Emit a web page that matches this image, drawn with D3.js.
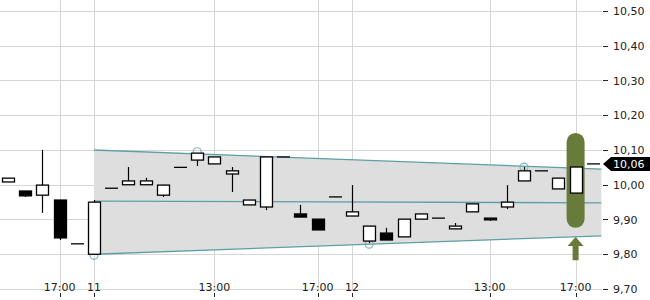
<!DOCTYPE html>
<html>
<head>
<meta charset="utf-8">
<script src="https://cdn.jsdelivr.net/npm/d3@7"></script>
<style>
  body { margin: 0; background: #fff; }
  svg text { font-family: "DejaVu Sans", sans-serif; font-size: 11px; }
</style>
</head>
<body>
<div id="chart_area"></div>
<script>
// candles, one per period (index = position on the x axis)
var opens  = [10.008, 9.982, 9.970, 9.956, 9.830, 9.800, 9.990, 10.000, 10.000, 9.970, 10.050, 10.071, 10.060, 10.031, 9.942, 9.936, 10.080, 9.916, 9.901, 9.965, 9.910, 9.838, 9.861, 9.850, 9.901, 9.904, 9.873, 9.922, 9.904, 9.936, 10.011, 10.040, 9.988, 9.976, 10.060];
var highs  = [10.019, 9.982, 10.100, 9.956, 9.830, 9.956, 9.990, 10.051, 10.020, 10.000, 10.050, 10.091, 10.080, 10.051, 9.956, 10.080, 10.080, 9.942, 9.901, 9.965, 9.999, 9.881, 9.876, 9.901, 9.916, 9.904, 9.890, 9.945, 9.904, 9.999, 10.051, 10.040, 10.019, 10.051, 10.060];
var lows   = [10.008, 9.965, 9.919, 9.841, 9.830, 9.800, 9.990, 10.000, 10.000, 9.965, 10.050, 10.054, 10.060, 9.979, 9.942, 9.927, 10.080, 9.907, 9.870, 9.965, 9.910, 9.832, 9.841, 9.850, 9.901, 9.904, 9.873, 9.922, 9.896, 9.930, 10.011, 10.040, 9.988, 9.976, 10.060];
var closes = [10.019, 9.968, 9.999, 9.847, 9.830, 9.950, 9.990, 10.011, 10.011, 9.999, 10.050, 10.091, 10.080, 10.040, 9.956, 10.080, 10.080, 9.907, 9.870, 9.965, 9.922, 9.881, 9.841, 9.901, 9.916, 9.904, 9.881, 9.945, 9.899, 9.950, 10.040, 10.040, 10.019, 10.051, 10.060];

// x axis labels at candle indices
var tickIdx    = [3, 5, 12, 18, 20, 28, 33];
var tickLabels = ["17:00", "11", "13:00", "17:00", "12", "13:00", "17:00"];

var yTicks = [9.7, 9.8, 9.9, 10.0, 10.1, 10.2, 10.3, 10.4, 10.5];

// trend channel [startIndex, endIndex] and prices at each end
var channelIdx   = [5, 34.5];
var channelUpper = [10.10, 10.045];
var channelMid   = [9.953, 9.948];
var channelLower = [9.80, 9.853];

// touch points of the channel: [index, price]
var touches = [[5, 9.797], [11, 10.095], [21, 9.829], [30, 10.051]];

// signal range and buy arrow
var signalIdx = 33;
var signalRange = [9.876, 10.149];
var arrowRange = [9.783, 9.85];

var lastPrice = 10.06;

var width = 650, height = 300;
var plotRight = 602, plotBottom = 289;

var x = d3.scaleLinear().domain([0, 34]).range([8, 592.8]);
var y = d3.scaleLinear().domain([9.7, 10.5]).range([289, 11]);
var fmt = function (v) { return d3.format(".2f")(v).replace(".", ","); };

var svg = d3.select("#chart_area").append("svg")
    .attr("width", width)
    .attr("height", height);

// grid
svg.append("g").selectAll("line").data(yTicks).enter().append("line")
    .attr("x1", 0).attr("x2", plotRight)
    .attr("y1", function (d) { return Math.round(y(d)) + 0.5; })
    .attr("y2", function (d) { return Math.round(y(d)) + 0.5; })
    .style("stroke", "#d6d6d6").style("stroke-width", 1);
svg.append("g").selectAll("line").data(tickIdx).enter().append("line")
    .attr("x1", function (d) { return Math.round(x(d)) + 0.5; })
    .attr("x2", function (d) { return Math.round(x(d)) + 0.5; })
    .attr("y1", 0).attr("y2", plotBottom)
    .style("stroke", "#d6d6d6").style("stroke-width", 1);

// channel
var cx0 = x(channelIdx[0]), cx1 = x(channelIdx[1]);
svg.append("path")
    .attr("d", "M" + cx0 + "," + y(channelUpper[0]) + "L" + cx1 + "," + y(channelUpper[1]) +
               "L" + cx1 + "," + y(channelLower[1]) + "L" + cx0 + "," + y(channelLower[0]) + "Z")
    .style("fill", "#dedede");
[channelUpper, channelMid, channelLower].forEach(function (c) {
    svg.append("line")
        .attr("x1", cx0).attr("y1", y(c[0]))
        .attr("x2", cx1).attr("y2", y(c[1]))
        .style("stroke", "#5e9fa6").style("stroke-width", 1.3);
});

svg.append("g").selectAll("circle").data(touches).enter().append("circle")
    .attr("cx", function (d) { return x(d[0]); })
    .attr("cy", function (d) { return y(d[1]); })
    .attr("r", 4)
    .style("fill", "none").style("stroke", "#7fb5b8").style("stroke-width", 1.2);

// signal capsule
svg.append("rect")
    .attr("x", x(signalIdx) - 9).attr("width", 18)
    .attr("y", y(signalRange[1])).attr("height", y(signalRange[0]) - y(signalRange[1]))
    .attr("rx", 9).attr("ry", 9)
    .style("fill", "#697b3b");

// candles
var candles = opens.map(function (o, i) {
    return { i: i, o: o, h: highs[i], l: lows[i], c: closes[i] };
});
var g = svg.append("g").attr("class", "candles");
g.selectAll("line.wick").data(candles.filter(function (d) { return d.h > d.l; })).enter().append("line")
    .attr("class", "wick")
    .attr("x1", function (d) { return Math.round(x(d.i)) + 0.5; })
    .attr("x2", function (d) { return Math.round(x(d.i)) + 0.5; })
    .attr("y1", function (d) { return y(d.h); })
    .attr("y2", function (d) { return y(d.l); })
    .style("stroke", "#000").style("stroke-width", 1.2);
g.selectAll("rect").data(candles.filter(function (d) { return d.o !== d.c; })).enter().append("rect")
    .attr("x", function (d) { return Math.round(x(d.i)) - 5.5; })
    .attr("width", 12)
    .attr("y", function (d) { return y(Math.max(d.o, d.c)); })
    .attr("height", function (d) { return Math.max(1, Math.abs(y(d.o) - y(d.c))); })
    .style("fill", function (d) { return d.c > d.o ? "#fff" : "#000"; })
    .style("stroke", "#000").style("stroke-width", 1.3);
g.selectAll("line.doji").data(candles.filter(function (d) { return d.o === d.c; })).enter().append("line")
    .attr("class", "doji")
    .attr("x1", function (d) { return Math.round(x(d.i)) - 6; })
    .attr("x2", function (d) { return Math.round(x(d.i)) + 7; })
    .attr("y1", function (d) { return y(d.o); })
    .attr("y2", function (d) { return y(d.o); })
    .style("stroke", "#000").style("stroke-width", 1.3);

// buy arrow
var ax = x(signalIdx), aTop = y(arrowRange[1]), aBot = y(arrowRange[0]);
svg.append("path")
    .attr("d", "M" + ax + "," + aTop + "L" + (ax + 8) + "," + (aTop + 9) + "L" + (ax + 3) + "," + (aTop + 9) +
               "L" + (ax + 3) + "," + aBot + "L" + (ax - 3) + "," + aBot + "L" + (ax - 3) + "," + (aTop + 9) +
               "L" + (ax - 8) + "," + (aTop + 9) + "Z")
    .style("fill", "#697b3b");

// y axis
var yAxis = svg.append("g").attr("transform", "translate(603,0)");
yAxis.selectAll("line").data(yTicks).enter().append("line")
    .attr("x1", 0).attr("x2", 5)
    .attr("y1", function (d) { return Math.round(y(d)) + 0.5; })
    .attr("y2", function (d) { return Math.round(y(d)) + 0.5; })
    .style("stroke", "#222").style("stroke-width", 1);
yAxis.selectAll("text").data(yTicks).enter().append("text")
    .attr("x", 10)
    .attr("y", function (d) { return y(d) + 4; })
    .style("fill", "#222")
    .text(fmt);

// x axis
var xAxis = svg.append("g");
xAxis.selectAll("line").data(tickIdx).enter().append("line")
    .attr("x1", function (d) { return Math.round(x(d)) + 0.5; })
    .attr("x2", function (d) { return Math.round(x(d)) + 0.5; })
    .attr("y1", 293).attr("y2", 297)
    .style("stroke", "#222");
xAxis.selectAll("text").data(tickIdx).enter().append("text")
    .attr("x", function (d) { return x(d); })
    .attr("y", 291)
    .attr("text-anchor", "middle")
    .style("fill", "#222")
    .text(function (d, i) { return tickLabels[i]; });

// last price tag
var ly = y(lastPrice);
svg.append("path")
    .attr("d", "M603," + ly + "L611," + (ly - 7) + "L650," + (ly - 7) + "L650," + (ly + 7) + "L611," + (ly + 7) + "Z")
    .style("fill", "#000");
svg.append("text")
    .attr("x", 613).attr("y", ly + 4)
    .style("fill", "#fff")
    .text(fmt(lastPrice));
</script>
</body>
</html>
